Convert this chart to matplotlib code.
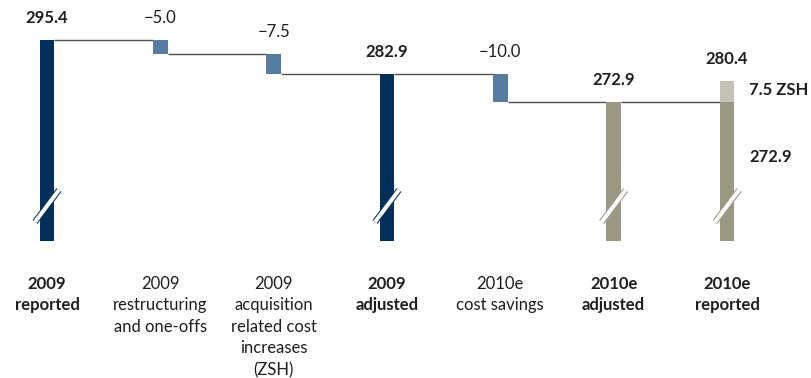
import matplotlib
matplotlib.use("Agg")
import matplotlib.pyplot as plt
import matplotlib.transforms as mtransforms

plt.rcParams['font.family'] = ['Lato', 'DejaVu Sans']

# --- data -------------------------------------------------------------
categories = [
    "2009\nreported",
    "2009\nrestructuring\nand one-offs",
    "2009\nacquisition\nrelated cost\nincreases\n(ZSH)",
    "2009\nadjusted",
    "2010e\ncost savings",
    "2010e\nadjusted",
    "2010e\nreported",
]
kinds = ["total", "delta", "delta", "total", "delta", "total", "stack"]
values = [295.4, -5.0, -7.5, 282.9, -10.0, 272.9, 272.9]
zsh_addition = 7.5
bold_labels = [True, False, False, True, False, True, True]

# --- style ------------------------------------------------------------
NAVY = "#00305a"
STEEL = "#577ca1"
TAUPE = "#9a9782"
TAUPE_LIGHT = "#c6c2b5"
LINE = "#505050"
TEXT = "#1e1e1e"
bar_colors = [NAVY, STEEL, STEEL, NAVY, STEEL, TAUPE, TAUPE]
broken = [True, False, False, True, False, True, True]

W, H = 811, 378
fig = plt.figure(figsize=(W / 100, H / 100), dpi=100)
ax = fig.add_axes([0, 0, 1, 1])
ax.set_xlim(-0.4147, 6.741)
ax.set_ylim(172.75, 309.9)
ax.axis("off")

base = 222.5          # cut-off floor of the broken axis
bw = 0.132            # bar width
FS = 12.0

# running totals for the waterfall
tops, bottoms, levels = [], [], []
level = 0.0
for kind, v in zip(kinds, values):
    if kind == "delta":
        top, bottom = level, level + v
        level = bottom
    else:
        top, bottom = v, base
        level = v
    tops.append(top)
    bottoms.append(bottom)
    levels.append(level)

for i, (kind, v) in enumerate(zip(kinds, values)):
    ax.bar(i, tops[i] - bottoms[i], bottom=bottoms[i], width=bw,
           color=bar_colors[i], linewidth=0, zorder=2)
    if kind == "stack":
        ax.bar(i, zsh_addition, bottom=v, width=bw, color=TAUPE_LIGHT,
               linewidth=0, zorder=2)

# connectors between neighbouring bars
for i in range(len(values) - 1):
    ax.plot([i + bw / 2, i + 1 - bw / 2], [levels[i], levels[i]],
            color=LINE, lw=1.0, zorder=1, solid_capstyle="butt")

# axis-break marks on the bars that start at the cut-off floor
px = 1 / 113.33
ypx = 1 / 2.756
for i, b in enumerate(broken):
    if not b:
        continue
    xs = [i - 12 * px, i + 12 * px]
    ys = [272.9 - (222 - 102) * ypx, 272.9 - (190 - 102) * ypx]
    ax.plot(xs, ys, color=bar_colors[i], lw=4.4, solid_capstyle="butt", zorder=3)
    ax.plot(xs, ys, color="white", lw=2.9, solid_capstyle="butt", zorder=4)

# value labels above the bars
for i, (kind, v) in enumerate(zip(kinds, values)):
    if kind == "delta":
        txt = "\u2212" + f"{abs(v):.1f}"
        y = tops[i]
    elif kind == "stack":
        txt = f"{v + zsh_addition:.1f}"
        y = v + zsh_addition
    else:
        txt = f"{v:.1f}"
        y = v
    ax.annotate(txt, (i, y), xytext=(0, 22), textcoords="offset pixels",
                ha="center", va="center", fontsize=FS, color=TEXT,
                fontweight="bold" if kind != "delta" else "normal")

# breakdown of the last bar
last = len(values) - 1
ax.annotate(f"{zsh_addition:.1f} ZSH", (last + bw / 2, values[last] + zsh_addition / 2),
            xytext=(15, 2), textcoords="offset pixels", ha="left", va="center",
            fontsize=FS, fontweight="bold", color=TEXT)
ax.annotate(f"{values[last]:.1f}", (last + bw / 2, values[last]),
            xytext=(15, -55), textcoords="offset pixels", ha="left", va="center",
            fontsize=FS, fontweight="bold", color=TEXT)

# category labels under the bars
trans = mtransforms.blended_transform_factory(ax.transData, ax.transAxes)
for i, cat in enumerate(categories):
    ax.text(i, 1 - 276 / H, cat, transform=trans, ha="center", va="top",
            fontsize=FS, color=TEXT, linespacing=1.42,
            fontweight="bold" if bold_labels[i] else "normal")

fig.savefig("out.png", dpi=100)
